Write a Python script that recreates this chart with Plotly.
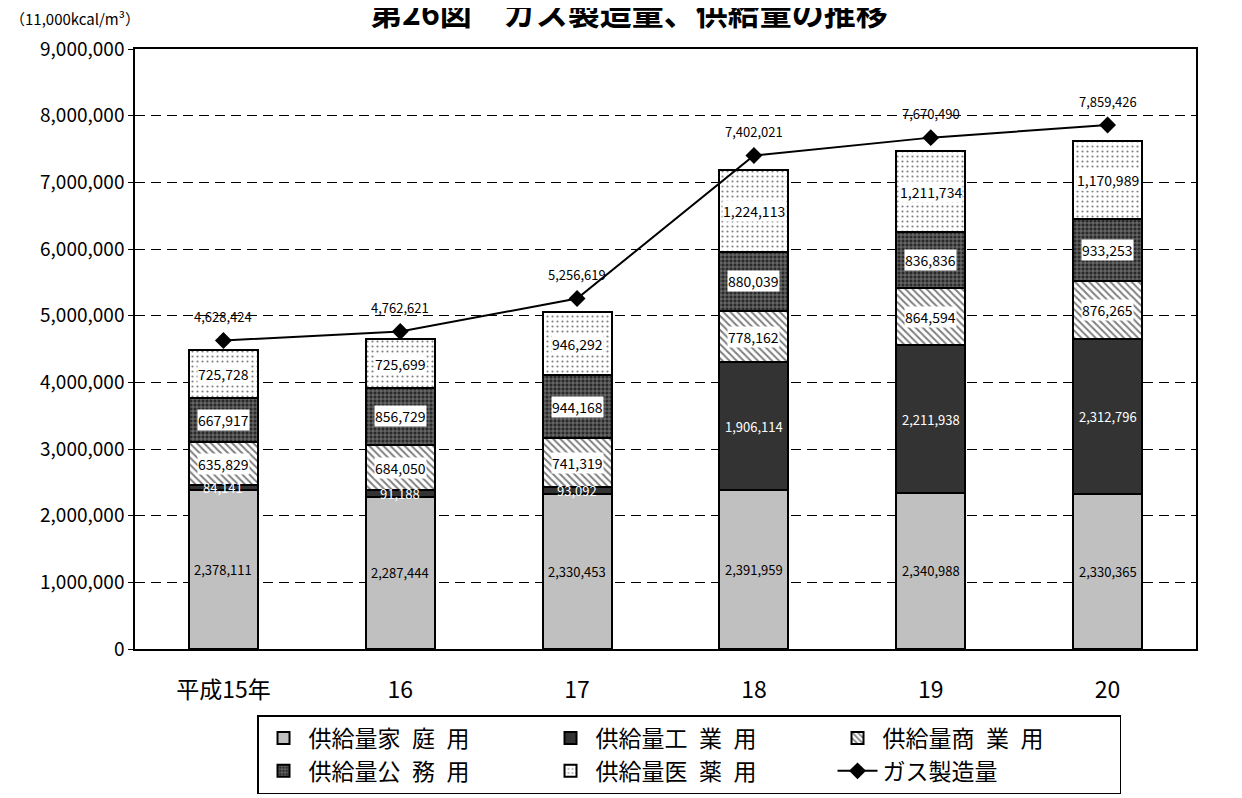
import plotly.graph_objects as go

categories = ["平成15年", "16", "17", "18", "19", "20"]
katei = [2378111, 2287444, 2330453, 2391959, 2340988, 2330365]
kogyo = [84141, 91188, 93092, 1906114, 2211938, 2312796]
shogyo = [635829, 684050, 741319, 778162, 864594, 876265]
komu = [667917, 856729, 944168, 880039, 836836, 933253]
iyaku = [725728, 725699, 946292, 1224113, 1211734, 1170989]
seizo = [4628424, 4762621, 5256619, 7402021, 7670490, 7859426]

FONT = "Noto Sans CJK JP"
fmt = lambda v: f"{v:,}"
SP = "\u2002"

fig = go.Figure()
series = [
    ("供給量家" + SP + "庭" + SP + "用", katei, dict(color="#c0c0c0")),
    ("供給量工" + SP + "業" + SP + "用", kogyo, dict(color="#333333")),
    ("供給量商" + SP + "業" + SP + "用", shogyo, dict(color="white", pattern=dict(shape="\\", fgcolor="#000", bgcolor="white", size=5, solidity=0.4))),
    ("供給量公" + SP + "務" + SP + "用", komu, dict(color="#333333", pattern=dict(shape="+", fgcolor="#ffffff", bgcolor="#2a2a2a", size=4, solidity=0.3))),
    ("供給量医" + SP + "薬" + SP + "用", iyaku, dict(color="white", pattern=dict(shape=".", fgcolor="#000", bgcolor="white", size=5, solidity=0.15))),
]
for name, vals, mk in series:
    mk = dict(mk)
    mk["line"] = dict(color="black", width=2)
    fig.add_trace(go.Bar(x=categories, y=vals, name=name, marker=mk, width=0.39))

fig.add_trace(go.Scatter(x=categories, y=seizo, name="ガス製造量", mode="lines+markers",
                         line=dict(color="black", width=2),
                         marker=dict(symbol="diamond", size=13, color="black")))

annotations = []
base = [0] * len(categories)
for si, (name, vals, mk) in enumerate(series):
    for i, v in enumerate(vals):
        mid = base[i] + v / 2
        if si == 0:
            annotations.append(dict(x=i, y=mid, text=fmt(v), showarrow=False,
                                    font=dict(size=13, color="black", family=FONT)))
        elif si == 1:
            annotations.append(dict(x=i, y=mid, text=fmt(v), showarrow=False,
                                    font=dict(size=13, color="white", family=FONT)))
        else:
            annotations.append(dict(x=i, y=mid, text=fmt(v), showarrow=False,
                                    bgcolor="white", borderpad=0,
                                    font=dict(size=14, color="black", family=FONT)))
        base[i] += v
for i, v in enumerate(seizo):
    annotations.append(dict(x=i, y=v, text=fmt(v), showarrow=False, yshift=24,
                            font=dict(size=13, color="black", family=FONT)))

annotations.append(dict(xref="paper", yref="paper", x=-0.1197, y=1.0508, xanchor="left", yanchor="middle",
                        text="（11,000kcal/m³）", showarrow=False,
                        font=dict(size=15, color="black", family=FONT)))

fig.update_layout(
    width=1242, height=798,
    margin=dict(l=127, r=54, t=41, b=147),
    paper_bgcolor="white", plot_bgcolor="white",
    barmode="stack",
    font=dict(family=FONT, color="black"),
    title=dict(text="<b>第26図　ガス製造量、供給量の推移</b>", x=0.5, xanchor="center",
               y=0.9925, yanchor="middle", font=dict(size=32, family=FONT, color="black")),
    annotations=annotations,
    showlegend=True,
    legend=dict(orientation="h", traceorder="normal", x=0.115, xanchor="left", y=-0.11, yanchor="top",
                bordercolor="black", borderwidth=1.5, bgcolor="white",
                font=dict(size=23, family=FONT, color="black"),
                entrywidth=232, entrywidthmode="pixels", itemwidth=40, tracegroupgap=0),
    xaxis=dict(type="category", range=[-0.5, 5.5], showline=True, linecolor="black", linewidth=1.5,
               mirror=True, ticks="", tickangle=0,
               tickfont=dict(size=23, family=FONT), ticklabelstandoff=20),
    yaxis=dict(range=[0, 9000000], dtick=1000000, tickformat=",d", showline=True, linecolor="black",
               linewidth=1.5, mirror=True, ticks="outside", ticklen=5, tickcolor="black",
               showgrid=True, gridcolor="black", griddash="10px,6px", gridwidth=1,
               tickfont=dict(size=19, family=FONT), zeroline=False),
)

fig.write_html("out.html")
